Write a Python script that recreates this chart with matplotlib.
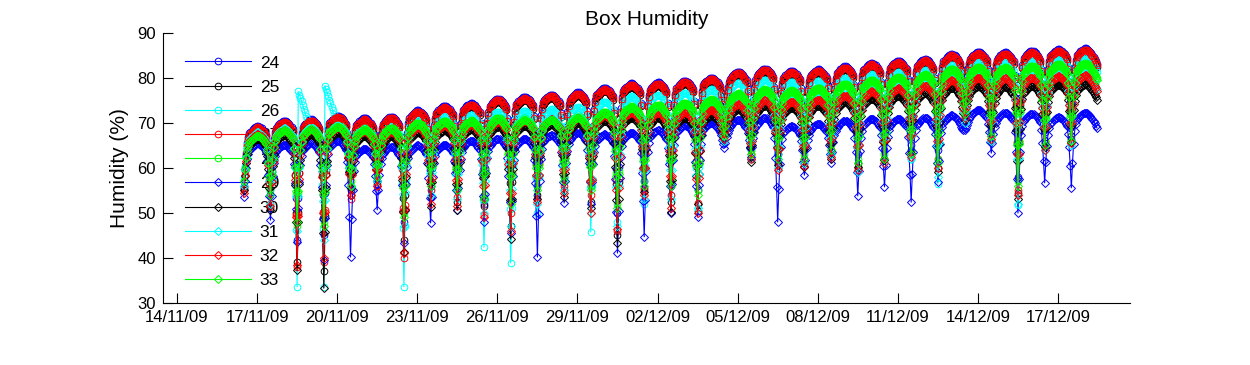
import pandas as pd
import matplotlib
matplotlib.use("Agg")
import matplotlib.pyplot as plt

plt.rcParams["font.family"] = ["Liberation Sans", "DejaVu Sans"]

# =========================
# 1. Data
# =========================

# first sample (start of a dip), then one dip per day around noon
start_time = pd.Timestamp("2009-11-16 12:00")

sensor_names = ["24", "25", "26", "27", "28", "29", "30", "31", "32", "33"]
sensor_colors = ["#0000ff", "#000000", "#00ffff", "#ff0000", "#00ff00",
                 "#0000ff", "#000000", "#00ffff", "#ff0000", "#00ff00"]
sensor_markers = ["o", "o", "o", "o", "o", "D", "D", "D", "D", "D"]

# daily dome maximum (one value per day, dome after each dip)
top_24 = [69.3, 70.5, 70.8, 71.6, 71.1, 71.4, 72.8, 73.8, 74.4, 75.4, 75.8, 76.3, 76.8, 77.8, 78.8, 79.0,
          79.4, 80.1, 81.4, 82.1, 81.6, 81.9, 82.6, 83.3, 83.8, 84.2, 85.3, 85.8, 85.7, 86.0, 86.4, 86.6]
top_25 = [68.6, 69.8, 70.1, 70.9, 70.4, 70.7, 72.1, 73.1, 73.7, 74.7, 75.1, 75.6, 76.1, 77.1, 78.1, 78.3,
          78.7, 79.4, 80.7, 81.4, 80.9, 81.2, 81.9, 82.6, 83.1, 83.5, 84.6, 85.1, 85.0, 85.3, 85.7, 85.9]
top_26 = [67.5, 68.7, 69.0, 69.8, 69.2, 69.4, 70.7, 71.5, 71.8, 72.5, 72.7, 73.0, 73.5, 74.7, 75.9, 76.2,
          76.7, 77.5, 78.9, 79.6, 79.1, 79.4, 80.1, 80.8, 81.3, 81.7, 82.9, 83.5, 83.5, 83.9, 84.5, 84.8]
top_27 = [69.0, 70.2, 70.5, 71.3, 70.8, 71.1, 72.5, 73.5, 74.1, 75.1, 75.5, 76.0, 76.5, 77.5, 78.5, 78.7,
          79.1, 79.8, 81.1, 81.8, 81.3, 81.6, 82.3, 83.0, 83.5, 83.9, 85.0, 85.5, 85.4, 85.7, 86.1, 86.3]
top_28 = [67.5, 68.7, 68.9, 69.5, 68.8, 68.9, 70.0, 70.5, 70.6, 71.1, 71.0, 71.0, 71.5, 72.5, 73.7, 74.0,
          74.5, 75.3, 76.6, 77.5, 77.3, 77.8, 78.7, 79.6, 80.3, 80.8, 82.0, 82.5, 82.4, 82.7, 83.1, 83.3]
top_29 = [65.5, 65.2, 65.5, 66.0, 64.3, 64.7, 65.0, 65.2, 66.0, 66.5, 66.5, 67.3, 67.8, 67.5, 67.8, 68.4,
          69.5, 70.0, 70.7, 71.1, 69.3, 69.8, 70.5, 70.9, 70.9, 71.1, 71.7, 72.9, 72.3, 72.1, 71.3, 72.3]
top_30 = [66.5, 67.3, 67.4, 67.9, 67.1, 67.0, 67.9, 68.4, 68.6, 69.2, 69.4, 69.7, 69.9, 70.5, 71.2, 71.1,
          71.2, 71.7, 73.0, 73.8, 73.4, 73.8, 74.6, 75.4, 76.0, 76.6, 77.8, 78.2, 78.0, 78.2, 78.5, 78.6]
top_31 = [67.9, 68.8, 68.9, 69.4, 68.6, 68.5, 69.4, 69.9, 70.1, 70.7, 70.9, 71.2, 71.4, 72.1, 72.8, 72.7,
          72.8, 73.3, 74.6, 75.4, 75.1, 75.6, 76.5, 77.4, 78.1, 78.7, 79.9, 80.4, 80.3, 80.5, 80.8, 81.0]
top_32 = [67.5, 68.4, 68.5, 69.0, 68.2, 68.1, 69.0, 69.5, 69.7, 70.3, 70.5, 70.8, 71.0, 71.7, 72.4, 72.3,
          72.4, 72.9, 74.2, 75.0, 74.7, 75.2, 76.1, 77.0, 77.7, 78.3, 79.5, 80.0, 79.9, 80.1, 80.4, 80.6]
top_33 = [67.2, 68.4, 68.6, 69.2, 68.5, 68.6, 69.7, 70.2, 70.3, 70.8, 70.7, 70.7, 71.2, 72.2, 73.4, 73.7,
          74.2, 75.0, 76.3, 77.2, 77.0, 77.5, 78.4, 79.3, 80.0, 80.5, 81.7, 82.2, 82.1, 82.4, 82.8, 83.0]

# minimum of each daily dip (first value = start of record)
low_24 = [56.0, 54.0, 44.0, 45.0, 55.0, 57.0, 48.0, 56.0, 55.0, 52.0, 53.0, 56.0, 58.0, 56.0, 50.0, 57.0,
          56.0, 55.0, 70.0, 65.0, 63.0, 64.0, 66.0, 63.0, 64.0, 65.0, 64.0, 74.0, 70.0, 58.0, 68.0, 69.0]
low_25 = [55.5, 51.0, 39.0, 37.0, 54.0, 56.5, 44.0, 53.5, 52.5, 51.5, 47.0, 54.0, 55.0, 52.5, 45.0, 55.5,
          52.5, 50.5, 67.0, 62.0, 61.0, 61.0, 63.0, 61.0, 62.0, 64.0, 60.0, 71.5, 67.0, 54.5, 65.5, 66.5]
low_26 = [58.0, 55.0, 33.6, 33.5, 56.0, 58.0, 33.6, 55.0, 55.0, 42.4, 38.9, 50.0, 58.0, 45.8, 48.0, 52.0,
          54.0, 51.0, 67.0, 64.0, 62.0, 62.0, 64.0, 60.0, 62.0, 62.0, 56.4, 71.0, 68.0, 51.8, 64.0, 66.0]
low_27 = [55.0, 52.0, 38.0, 39.0, 53.0, 56.0, 40.0, 55.0, 53.6, 49.5, 50.0, 53.0, 56.0, 54.0, 46.0, 55.0,
          54.0, 52.2, 68.0, 63.0, 60.0, 62.0, 64.0, 60.0, 62.0, 63.0, 62.0, 72.0, 68.0, 55.0, 66.0, 67.0]
low_28 = [57.0, 55.0, 47.0, 48.0, 57.0, 58.0, 50.0, 57.0, 56.0, 54.0, 53.0, 56.0, 58.0, 56.0, 52.0, 57.0,
          57.0, 55.0, 68.0, 64.0, 63.0, 63.0, 65.0, 62.0, 63.0, 64.0, 62.0, 73.0, 68.0, 57.0, 66.0, 67.0]
low_29 = [53.5, 48.4, 43.6, 39.6, 40.2, 50.7, 43.3, 47.8, 50.7, 48.0, 45.5, 40.2, 52.2, 52.0, 41.1, 44.7,
          50.0, 49.1, 64.4, 62.5, 48.0, 58.4, 61.1, 53.8, 55.8, 52.4, 56.9, 68.4, 63.3, 50.0, 56.7, 55.6]
low_30 = [55.0, 50.7, 37.3, 33.3, 55.5, 57.0, 41.3, 51.3, 50.7, 53.0, 44.2, 53.0, 53.6, 51.0, 43.3, 54.7,
          50.2, 52.0, 66.0, 61.3, 60.7, 60.2, 62.0, 60.2, 61.8, 63.3, 59.0, 70.7, 66.0, 53.0, 64.6, 65.8]
low_31 = [56.0, 52.0, 46.0, 44.0, 56.0, 57.0, 47.0, 54.0, 53.0, 50.0, 47.0, 52.0, 55.0, 50.0, 47.0, 53.0,
          53.0, 51.0, 66.0, 62.0, 60.0, 61.0, 63.0, 59.0, 61.0, 62.0, 58.0, 70.0, 66.0, 52.0, 64.0, 65.0]
low_32 = [54.5, 51.5, 38.5, 40.0, 54.0, 56.0, 41.0, 52.0, 51.5, 49.0, 46.0, 52.5, 54.5, 50.0, 46.5, 54.0,
          51.0, 50.0, 66.5, 62.0, 59.5, 60.5, 62.5, 59.5, 61.0, 62.5, 60.0, 71.0, 66.5, 54.0, 64.0, 65.5]
low_33 = [57.0, 54.0, 48.0, 47.0, 56.0, 58.0, 49.0, 56.0, 55.0, 53.0, 52.0, 55.0, 57.0, 55.0, 51.0, 56.0,
          56.0, 54.0, 67.0, 63.0, 62.0, 62.0, 64.0, 61.0, 62.0, 63.0, 61.0, 72.0, 67.0, 56.0, 65.0, 66.0]

# shape of one day (hours after the noon dip): drop below the dome top
arch_drop = [3.5, 3.2, 2.8, 2.4, 2.0, 1.6, 1.3, 1.0, 0.7, 0.5, 0.3, 0.1,
             0.0, 0.0, 0.1, 0.3, 0.5, 0.8, 1.1, 1.5, 1.9, 2.4, 2.9, 3.4]
# share of the dip depth still present 0..4 h after the dip, and 3..1 h before the next one
dip_after = [1.0, 0.6, 0.3, 0.12, 0.04]
dip_before = [0.1, 0.3, 0.6]

# sensor 26 jumped high after the dips of 18/11 and 19/11 (hours 1..11)
spike_26 = {2: [77.0, 76.3, 75.6, 74.8, 74.0, 73.2, 72.4, 71.6, 70.9, 70.2, 69.6],
            3: [78.3, 77.6, 76.8, 76.0, 75.2, 74.4, 73.6, 72.8, 72.0, 71.3, 70.7]}

tick_dates = ["14/11/09", "17/11/09", "20/11/09", "23/11/09", "26/11/09", "29/11/09",
              "02/12/09", "05/12/09", "08/12/09", "11/12/09", "14/12/09", "17/12/09"]

tops = [top_24, top_25, top_26, top_27, top_28, top_29, top_30, top_31, top_32, top_33]
lows = [low_24, low_25, low_26, low_27, low_28, low_29, low_30, low_31, low_32, low_33]


# =========================
# 2. Build hourly series
# =========================

def build_series(top, low, spikes=None):
    times = []
    values = []
    n_days = len(top)
    n_before = len(dip_before)
    for k in range(n_days):
        for h in range(24):
            v = top[k] - arch_drop[h]
            if h < len(dip_after):
                v = v - dip_after[h] * (v - low[k])
            if h >= 24 - n_before and k + 1 < n_days:
                v = v - dip_before[h - (24 - n_before)] * (v - low[k + 1])
            if spikes and k in spikes and 1 <= h <= len(spikes[k]):
                v = spikes[k][h - 1]
            times.append(start_time + pd.Timedelta(hours=24 * k + h))
            values.append(v)
    return times, values


# =========================
# 3. Plot
# =========================

fig = plt.figure(figsize=(12.5, 3.65), dpi=100)
ax = fig.add_axes([0.1304, 0.1699, 0.7736, 0.7397])

for i, name in enumerate(sensor_names):
    spikes = spike_26 if name == "26" else None
    t, v = build_series(tops[i], lows[i], spikes)
    ax.plot(t, v, color=sensor_colors[i], marker=sensor_markers[i],
            markersize=4.8 if sensor_markers[i] == "o" else 3.6,
            markerfacecolor="none", markeredgewidth=0.7, linewidth=0.8,
            label=name, zorder=2)

tick_pos = pd.to_datetime(tick_dates, format="%d/%m/%y")
ax.set_xticks(tick_pos)
ax.set_xticklabels(tick_dates)
ax.set_xlim(pd.Timestamp("2009-11-14") - pd.Timedelta(days=0.524),
            pd.Timestamp("2009-12-17") + pd.Timedelta(days=2.697))
ax.set_ylim(30, 90)
ax.set_yticks(range(30, 91, 10))

for side in ["top", "right"]:
    ax.spines[side].set_visible(False)
ax.tick_params(direction="in", length=7, width=0.8, labelsize=12, pad=5)

ax.set_title("Box Humidity", fontsize=15, pad=6)
ax.set_ylabel("Humidity (%)", fontsize=15, labelpad=6)

leg = ax.legend(loc="upper left", bbox_to_anchor=(0.0228, 0.917), frameon=False,
                fontsize=12.5, handlelength=3.8, handletextpad=0.5, labelspacing=0.52,
                borderaxespad=0, borderpad=0)
leg.set_zorder(1)

fig.savefig("out.png", dpi=100)
